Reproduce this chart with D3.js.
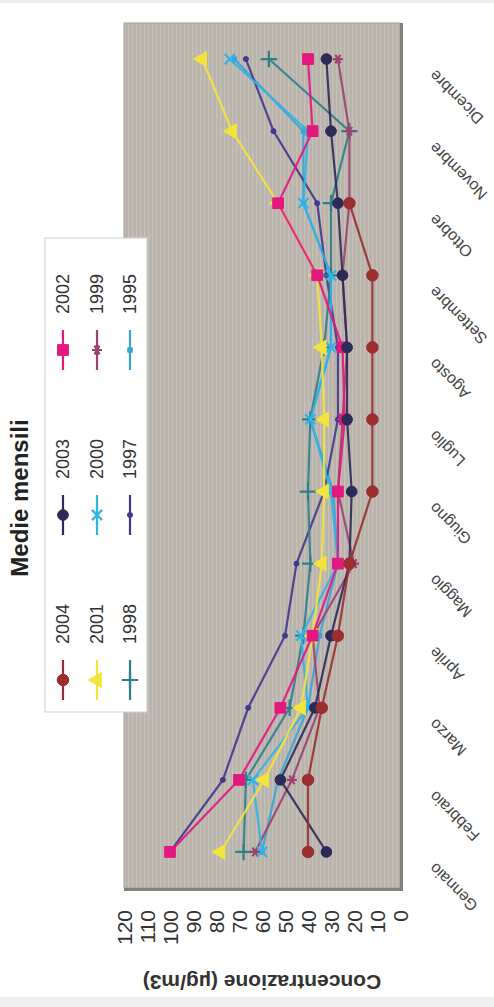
<!DOCTYPE html>
<html><head><meta charset="utf-8">
<script src="https://cdn.jsdelivr.net/npm/d3@7"></script>
<style>body{margin:0;background:#fff}svg{display:block}</style>
</head><body>
<svg id="c" width="494" height="1007"></svg>
<script>
const months = ["Gennaio","Febbraio","Marzo","Aprile","Maggio","Giugno","Luglio","Agosto","Settembre","Ottobre","Novembre","Dicembre"];
const years = ["2004","2003","2002","2001","2000","1999","1998","1997","1995"];
const v2004 = [40,40,34,27,22,12,12,12,12,22,null,null];
const v2003 = [32,52,37,30,22,21,23,23,25,27,30,32];
const v2002 = [100,70,52,38,27,27,24,25,36,53,38,40];
const v2001 = [78,59,43,38,34,33,33,34,36,53,73,86];
const v2000 = [60,64,40,43,27,30,39,30,30,42,40,74];
const v1999 = [63,47,35,38,20,27,25,23,25,22,22,27];
const v1998 = [68,67,48,42,39,40,39,33,30,30,22,57];
const v1997 = [100,77,66,50,45,33,27,27,32,36,55,67];
const v1995 = [60,53,40,35,27,29,39,30,30,42,42,72];
const valueTicks = [0,10,20,30,40,50,60,70,80,90,100,110,120];
const chartTitle = "Medie mensili";
const axisTitle = "Concentrazione (\u00b5g/m3)";

const seriesValues = [v2004,v2003,v2002,v2001,v2000,v1999,v1998,v1997,v1995];
const colors = ["#9b2f30","#2c2b58","#e2187f","#f3e43c","#30b4e6","#9c426f","#2f7f88","#43398c","#3aa4d6"];
const symbols = [d3.symbolCircle,d3.symbolCircle,d3.symbolSquare,d3.symbolTriangle,d3.symbolTimes,d3.symbolAsterisk,d3.symbolPlus,d3.symbolCircle,d3.symbolSquare];
const symSizes = [105,90,115,95,70,70,90,20,20];
const strokeSyms = [false,false,false,false,true,true,true,false,false];

const series = years.map((y,i)=>({name:y, values:seriesValues[i], color:colors[i], sym:symbols[i], size:symSizes[i], stroke:strokeSyms[i]}));

const svg = d3.select("#c");
svg.append("rect").attr("x",0).attr("y",0).attr("width",494).attr("height",3).attr("fill","#ececec");
svg.append("rect").attr("x",0).attr("y",997).attr("width",494).attr("height",10).attr("fill","#efefef");

// chart drawn in its natural (landscape) frame, then turned
const W = 1007, H = 494;
const g = svg.append("g").attr("transform",`translate(0,${W}) rotate(-90)`);

const plot = {x0:119, x1:984, y0:124, y1:400};
const x = d3.scaleBand().domain(months).range([plot.x0, plot.x1]);
const y = d3.scaleLinear().domain([0,120]).range([plot.y1, plot.y0]);
const cx = m => x(m) + x.bandwidth()/2;

const defs = svg.append("defs");
const pat = defs.append("pattern").attr("id","stripes").attr("patternUnits","userSpaceOnUse").attr("width",8).attr("height",4);
pat.append("rect").attr("width",8).attr("height",4).attr("fill","#bab3ac");
pat.append("rect").attr("y",0).attr("width",8).attr("height",1.4).attr("fill","#c6c0ba");

g.append("rect").attr("x",plot.x0).attr("y",plot.y0).attr("width",plot.x1-plot.x0).attr("height",plot.y1-plot.y0)
  .attr("fill","url(#stripes)").attr("stroke","#a5a09b").attr("stroke-width",1);
g.append("line").attr("x1",plot.x0).attr("x2",plot.x1).attr("y1",plot.y1+1.5).attr("y2",plot.y1+1.5).attr("stroke","#858079").attr("stroke-width",3);
g.append("line").attr("x1",plot.x0-1.5).attr("x2",plot.x0-1.5).attr("y1",plot.y0).attr("y2",plot.y1+3).attr("stroke","#858079").attr("stroke-width",3);

g.append("g").selectAll("text").data(valueTicks).join("text")
  .attr("x",97).attr("y",d=>y(d)).attr("dy","0.36em").attr("text-anchor","end")
  .attr("font-family","Liberation Sans, Arial, sans-serif").attr("font-size",21).attr("fill","#333")
  .text(d=>d);

g.append("g").selectAll("text").data(months).join("text")
  .attr("transform",d=>`translate(${cx(d)-10},436) rotate(-45)`)
  .attr("text-anchor","end")
  .attr("font-family","Liberation Sans, Arial, sans-serif").attr("font-size",16).attr("fill","#444")
  .text(d=>d);

g.append("text").attr("transform",`translate(32,${(plot.y0+plot.y1)/2}) rotate(-90)`)
  .attr("text-anchor","middle").attr("font-family","Liberation Sans, Arial, sans-serif")
  .attr("font-size",21).attr("font-weight","bold").attr("fill","#333").text(axisTitle);

g.append("text").attr("x",509).attr("y",28).attr("text-anchor","middle")
  .attr("font-family","Liberation Sans, Arial, sans-serif").attr("font-size",24).attr("font-weight","bold").attr("fill","#222")
  .text(chartTitle);

const line = d3.line().defined(d=>d.v!=null).x(d=>cx(d.m)).y(d=>y(d.v));
const sg = g.append("g");
series.slice().reverse().forEach(s=>{
  const pts = months.map((m,i)=>({m, v:s.values[i]}));
  sg.append("path").datum(pts).attr("d",line).attr("fill","none").attr("stroke",s.color).attr("stroke-width",2.2).attr("stroke-opacity",0.9);
  sg.append("g").selectAll("path").data(pts.filter(p=>p.v!=null)).join("path")
    .attr("transform",p=>`translate(${cx(p.m)},${y(p.v)})`)
    .attr("d",d3.symbol(s.sym,s.size))
    .attr("fill",s.stroke?"none":s.color)
    .attr("stroke",s.color).attr("stroke-width",s.stroke?2.2:1);
});

const leg = g.append("g");
leg.append("rect").attr("x",295).attr("y",45).attr("width",474).attr("height",102).attr("fill","#fff").attr("stroke","#cfcfcf");
const colX = [327,492,657], rowY = [63,97,130];
series.forEach((s,i)=>{
  const c = i%3, r = Math.floor(i/3);
  const mx = colX[c], my = rowY[r];
  leg.append("line").attr("x1",mx-20).attr("x2",mx+20).attr("y1",my).attr("y2",my).attr("stroke",s.color).attr("stroke-width",2.2);
  leg.append("path").attr("transform",`translate(${mx},${my})`).attr("d",d3.symbol(s.sym,s.size))
    .attr("fill",s.stroke?"none":s.color).attr("stroke",s.color).attr("stroke-width",s.stroke?2.2:1);
  leg.append("text").attr("x",mx+36).attr("y",my).attr("dy","0.36em")
    .attr("font-family","Liberation Sans, Arial, sans-serif").attr("font-size",18).attr("fill","#333").text(s.name);
});
</script>
</body></html>
